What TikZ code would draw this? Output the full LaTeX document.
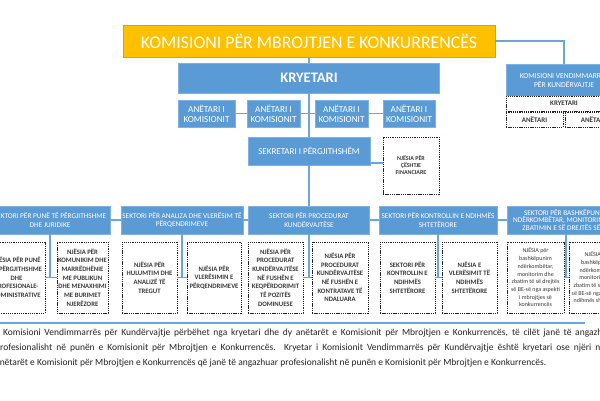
\documentclass[tikz,border=0pt]{standalone}
\usepackage{fontspec}
\setmainfont{Carlito}
\definecolor{gold}{HTML}{FFC000}
\definecolor{goldedge}{HTML}{8FA6BF}
\definecolor{boxblue}{HTML}{5B9BD5}
\definecolor{boxedge}{HTML}{7FB2E0}
\definecolor{lineblue}{HTML}{6AA6DA}
\definecolor{txtgray}{HTML}{3A3A3A}
\definecolor{paratext}{HTML}{262626}
\tikzset{
  goldbox/.style={draw=goldedge, line width=0.9pt, fill=gold, text=white, inner sep=0pt,
    font=\fontsize{17.8}{20}\selectfont},
  bluebox/.style={draw=boxedge, line width=0.8pt, fill=boxblue, text=white, inner sep=0pt, align=center},
  dbox/.style={draw=black!85, line width=0.8pt, dash pattern=on 1.3pt off 0.9pt, fill=white,
    text=txtgray, inner sep=0pt, align=center},
  unitfont/.style={font=\fontsize{6.7}{8.7}\selectfont\bfseries},
  link/.style={draw=lineblue, line width=1.1pt},
  para/.style={inner sep=0pt, text=paratext, font=\fontsize{9.5}{12}\selectfont},
}
\begin{document}
\begin{tikzpicture}[x=1pt,y=-1pt]
\useasboundingbox (0,0) rectangle (600,400);
\fill[white] (0,0) rectangle (600,400);
\clip (0,0) rectangle (600,400);

% top
\node[goldbox, minimum width=372pt, minimum height=32pt] (kmk) at (309,41) {KOMISIONI PËR MBROJTJEN E KONKURRENCËS};
\node[bluebox, minimum width=261pt, minimum height=30pt, font=\fontsize{14.5}{16}\selectfont\bfseries] (kry) at (309,78) {KRYETARI};

\foreach \n/\x/\w in {a1/206.5/57, a2/273.5/53, a3/341.5/53, a4/409/52}
  \node[bluebox, minimum width=\w pt, minimum height=27pt, font=\fontsize{9.2}{10}\selectfont] (\n) at (\x,113.5) {ANËTARI I\\KOMISIONIT};

% right commission
\node[bluebox, minimum width=116pt, minimum height=32pt, font=\fontsize{7.6}{9}\selectfont] (kvk) at (564,80) {KOMISIONI VENDIMMARRËS\\PËR KUNDËRVAJTJE};
\node[dbox, minimum width=116pt, minimum height=15pt, font=\fontsize{7}{8}\selectfont\bfseries] (kvkr) at (564,103.5) {KRYETARI};
\node[dbox, minimum width=57pt, minimum height=15pt, font=\fontsize{7}{8}\selectfont\bfseries] (kva1) at (534.5,119.5) {ANËTARI};
\node[dbox, minimum width=57pt, minimum height=15pt, font=\fontsize{7}{8}\selectfont\bfseries] (kva2) at (593.5,119.5) {ANËTARI};

% secretary
\node[bluebox, minimum width=122pt, minimum height=28pt, font=\fontsize{9}{10}\selectfont] (sek) at (309,151) {SEKRETARI I PËRGJITHSHËM};
\node[dbox, minimum width=56pt, minimum height=57pt, font=\fontsize{6}{7}\selectfont\bfseries] (fin) at (411,165.5) {NJËSIA PËR\\ÇËSHTJE\\FINANCIARE};

% sectors
\tikzset{sect/.style={bluebox, minimum height=28pt, font=\fontsize{7.3}{8.4}\selectfont}}
\node[sect, minimum width=120pt] (s1) at (50,220) {SEKTORI PËR PUNË TË PËRGJITHSHME\\DHE JURIDIKE};
\node[sect, minimum width=122pt] (s2) at (182,220) {SEKTORI PËR ANALIZA DHE VLERËSIM TË\\PËRQENDRIMEVE};
\node[sect, minimum width=121pt] (s3) at (309,220) {SEKTORI PËR PROCEDURAT\\KUNDËRVAJTËSE};
\node[sect, minimum width=118pt] (s4) at (438,220) {SEKTORI PËR KONTROLLIN E NDIHMËS\\SHTETËRORE};
\node[sect, minimum width=118pt, font=\fontsize{7.3}{7.4}\selectfont] (s5) at (566,220) {SEKTORI PËR BASHKËPUNIM\\NDËRKOMBËTAR, MONITORIM DHE\\ZBATIMIN E SË DREJTËS SË BE};

% units
\tikzset{unit/.style={dbox, unitfont, minimum height=71pt}}
\node[unit, minimum width=57pt] (u1) at (16.5,277.5) {NJËSIA PËR PUNË\\TË PËRGJITHSHME\\DHE\\PROFESIONALE-\\ADMINISTRATIVE};
\node[unit, minimum width=51pt] (u2) at (82.5,277.5) {NJËSIA PËR\\KOMUNIKIM DHE\\MARRËDHËNIE\\ME PUBLIKUN\\DHE MENAXHIMI\\ME BURIMET\\NJERËZORE};
\node[unit, minimum width=55pt] (u3) at (149.5,277.5) {NJËSIA PËR\\HULUMTIM DHE\\ANALIZË TË\\TREGUT};
\node[unit, minimum width=54pt] (u4) at (214,277.5) {NJËSIA PËR\\VLERËSIMIN E\\PËRQENDRIMEVE};
\node[unit, minimum width=55pt] (u5) at (275.5,277.5) {NJËSIA PËR\\PROCEDURAT\\KUNDËRVAJTËSE\\NË FUSHËN E\\KEQPËRDORIMIT\\TË POZITËS\\DOMINUESE};
\node[unit, minimum width=56pt] (u6) at (340,277.5) {NJËSIA PËR\\PROCEDURAT\\KUNDËRVAJTËSE\\NË FUSHËN E\\KONTRATAVE TË\\NDALUARA};
\node[unit, minimum width=55pt] (u7) at (407.5,277.5) {SEKTORI PËR\\KONTROLLIN E\\NDIHMËS\\SHTETËRORE};
\node[unit, minimum width=55pt] (u8) at (469.5,277.5) {NJËSIA E\\VLERËSIMIT TË\\NDIHMËS\\SHTETËRORE};
\node[unit, minimum width=57pt, font=\fontsize{6}{7.7}\selectfont] (u9) at (535.5,277.5) {NJËSIA për\\bashkëpunim\\ndërkombëtar,\\monitorim dhe\\zbatim të së drejtës\\së BE-së nga aspekti\\i mbrojtjes së\\konkurrencës};
\node[unit, minimum width=57pt, font=\fontsize{6}{7.7}\selectfont] (u10) at (597.5,277.5) {NJËSIA për\\bashkëpunim\\ndërkombëtar,\\monitorim dhe\\zbatim të së drejtës\\së BE-së nga aspekti i\\ndihmës shtetërore};

% connectors
\draw[link] (kmk.east) -| (kvk.north);
\draw[link] (kmk.south) -- (kry.north);
\draw[link] (kry.south) -- (sek.north);
\draw[link] (sek.south) -- (s3.north);
\draw[link] (a1.east) -- (a2.west);
\draw[link] (a2.east) -- (a3.west);
\draw[link] (a3.east) -- (a4.west);
\draw[link] (sek.east |- 0,163) -- (fin.west |- 0,163);
\draw[link] (s1.east) -- (s2.west);
\draw[link] (s2.east) -- (s3.west);
\draw[link] (s3.east) -- (s4.west);
\draw[link] (s4.east) -- (s5.west);
\foreach \s/\l/\r in {s1/u1/u2, s2/u3/u4, s3/u5/u6, s4/u7/u8, s5/u9/u10}{
  \draw[link] (\s.south) -- (\s.south |- \l.east);
  \draw[link] (\l.east) -- (\r.west);
}

% rule and paragraph
\coordinate (rl) at (0,323);
\coordinate (rr) at (585,323);
\draw[lineblue, line width=1.8pt] (rl) -- (rr);
\node[para, anchor=base west] (p1) at (3,335) {\makebox[612pt][s]{Komisioni Vendimmarrës për Kundërvajtje përbëhet nga kryetari dhe dy anëtarët e Komisionit për Mbrojtjen e Konkurrencës, të cilët janë të angazhuar}};
\node[para, anchor=base west] (p2) at (-5,350) {\makebox[614pt][s]{profesionalisht në punën e Komisionit për Mbrojtjen e Konkurrencës. Kryetar i Komisionit Vendimmarrës për Kundërvajtje është kryetari ose njëri nga}};
\node[para, anchor=base west] (p3) at (-5,365) {anëtarët e Komisionit për Mbrojtjen e Konkurrencës që janë të angazhuar profesionalisht në punën e Komisionit për Mbrojtjen e Konkurrencës.};
\end{tikzpicture}
\end{document}
